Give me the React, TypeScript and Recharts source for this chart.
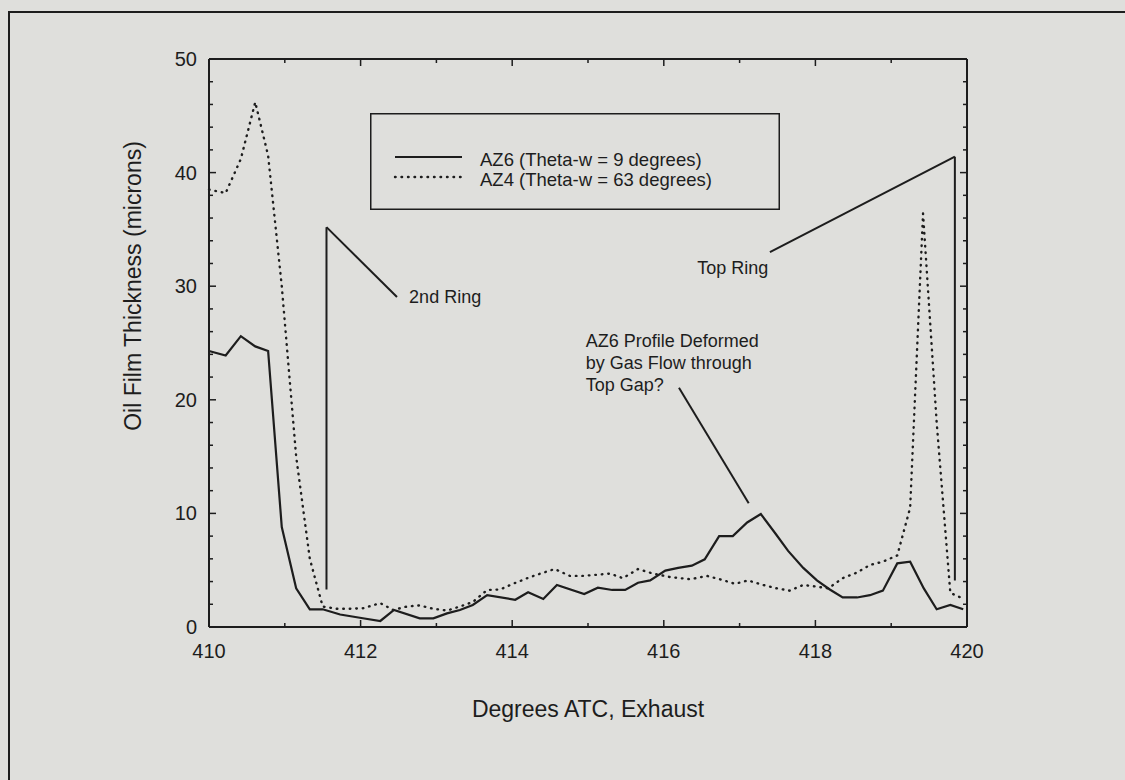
import React from "react";
import {
  LineChart,
  Line,
  XAxis,
  YAxis,
  ReferenceLine,
  ReferenceDot,
  Legend,
} from "recharts";

// crank angle (deg ATC) and oil film thickness (microns)
const az6Deg = [
  410.0, 410.22, 410.42, 410.61, 410.78, 410.96, 411.15, 411.33, 411.5, 411.73,
  412.03, 412.26, 412.44, 412.78, 412.96, 413.14, 413.31, 413.48, 413.67, 414.04,
  414.21, 414.41, 414.59, 414.95, 415.13, 415.32, 415.49, 415.66, 415.82, 416.02,
  416.19, 416.37, 416.54, 416.73, 416.91, 417.1, 417.28, 417.47, 417.64, 417.84,
  418.02, 418.19, 418.36, 418.55, 418.72, 418.89, 419.08, 419.25, 419.43, 419.6,
  419.78, 419.95,
];
const az6Film = [
  24.3, 23.9, 25.6, 24.7, 24.3, 8.8, 3.4, 1.56, 1.56, 1.1,
  0.77, 0.53, 1.5, 0.76, 0.76, 1.2, 1.5, 1.94, 2.8, 2.4,
  3.05, 2.46, 3.7, 2.9, 3.46, 3.26, 3.26, 3.9, 4.1, 4.96,
  5.2, 5.4, 5.96, 8.0, 8.0, 9.2, 9.95, 8.25, 6.7, 5.2,
  4.1, 3.3, 2.6, 2.6, 2.8, 3.2, 5.6, 5.75, 3.4, 1.56,
  1.94, 1.56,
];

const az4Deg = [
  410.0, 410.22, 410.42, 410.61, 410.78, 410.96, 411.15, 411.33, 411.5, 411.69,
  411.86, 412.03, 412.26, 412.43, 412.61, 412.78, 412.96, 413.14, 413.31, 413.48,
  413.67, 413.84, 414.01, 414.2, 414.37, 414.56, 414.76, 414.93, 415.12, 415.29,
  415.46, 415.66, 415.86, 416.08, 416.35, 416.57, 416.74, 416.94, 417.11, 417.31,
  417.49, 417.66, 417.84, 418.02, 418.17, 418.36, 418.55, 418.72, 418.89, 419.08,
  419.25, 419.42, 419.6, 419.78, 419.95,
];
const az4Film = [
  38.5, 38.2, 41.2, 46.2, 41.5, 30.0, 15.0, 6.0, 1.8, 1.6,
  1.6, 1.65, 2.1, 1.5, 1.8, 1.9, 1.6, 1.45, 1.8, 2.2,
  3.26, 3.3, 3.8, 4.3, 4.7, 5.1, 4.5, 4.5, 4.6, 4.7,
  4.3, 5.1, 4.7, 4.4, 4.2, 4.5, 4.2, 3.8, 4.1, 3.7,
  3.4, 3.2, 3.7, 3.55, 3.4, 4.3, 4.8, 5.46, 5.75, 6.3,
  10.5, 36.4, 18.0, 3.0, 2.5,
];

const seriesNames = ["AZ6 (Theta-w = 9 degrees)", "AZ4 (Theta-w = 63 degrees)"];

const xTicks = [410, 411, 412, 413, 414, 415, 416, 417, 418, 419, 420];
const yTicks = [
  0, 2, 4, 6, 8, 10, 12, 14, 16, 18, 20, 22, 24, 26, 28, 30, 32, 34, 36, 38, 40,
  42, 44, 46, 48, 50,
];

const az6Data = az6Deg.map((x, i) => ({ x, y: az6Film[i] }));
const az4Data = az4Deg.map((x, i) => ({ x, y: az4Film[i] }));

// pointer lines drawn on the plot (data coords)
const pointers = [
  [{ x: 411.55, y: 3.3 }, { x: 411.55, y: 35.2 }],
  [{ x: 411.55, y: 35.2 }, { x: 412.48, y: 29.05 }],
  [{ x: 419.84, y: 4.1 }, { x: 419.84, y: 41.4 }],
  [{ x: 419.84, y: 41.4 }, { x: 417.4, y: 33.0 }],
  [{ x: 416.2, y: 21.07 }, { x: 417.12, y: 10.89 }],
];

const notes = [
  { x: 412.64, y: 29.05, lines: ["2nd Ring"] },
  { x: 416.44, y: 31.6, lines: ["Top Ring"] },
  { x: 414.97, y: 25.2, lines: ["AZ6 Profile Deformed", "by Gas Flow through", "Top Gap?"] },
];

const FONT = '"Liberation Sans", Arial, Helvetica, sans-serif';
const INK = "#1d1d1d";
const BG = "#dfdfdc";
const DOTS = "0.6 5.9";

function BottomTick({ x, y, payload }: any) {
  const major = payload.value % 2 === 0;
  return (
    <g>
      <line x1={x} x2={x} y1={y} y2={y - (major ? 7 : 4)} stroke={INK} strokeWidth={1.5} />
      {major && (
        <text x={x} y={y + 31} textAnchor="middle" fontSize={20} fill={INK} fontFamily={FONT}>
          {payload.value}
        </text>
      )}
    </g>
  );
}

function TopTick({ x, y, payload }: any) {
  const major = payload.value % 2 === 0;
  return <line x1={x} x2={x} y1={y} y2={y + (major ? 7 : 4)} stroke={INK} strokeWidth={1.5} />;
}

function LeftTick({ x, y, payload }: any) {
  const major = payload.value % 10 === 0;
  return (
    <g>
      <line x1={x} x2={x + (major ? 7 : 4)} y1={y} y2={y} stroke={INK} strokeWidth={1.5} />
      {major && (
        <text x={x - 12} y={y + 7} textAnchor="end" fontSize={20} fill={INK} fontFamily={FONT}>
          {payload.value}
        </text>
      )}
    </g>
  );
}

function RightTick({ x, y, payload }: any) {
  const major = payload.value % 10 === 0;
  return <line x1={x} x2={x - (major ? 7 : 4)} y1={y} y2={y} stroke={INK} strokeWidth={1.5} />;
}

function NoteText({ viewBox, lines }: any) {
  const cx = viewBox.x + (viewBox.width || 0) / 2;
  const cy = viewBox.y + (viewBox.height || 0) / 2;
  return (
    <text x={cx} y={cy + 6} fontSize={18} fill={INK} fontFamily={FONT}>
      {lines.map((l: string, i: number) => (
        <tspan key={i} x={cx} dy={i === 0 ? 0 : 22}>
          {l}
        </tspan>
      ))}
    </text>
  );
}

function LegendBox() {
  return (
    <svg width={410} height={97} style={{ display: "block" }}>
      <rect x={0.75} y={0.75} width={408.5} height={95.5} fill="none" stroke={INK} strokeWidth={1.5} />
      <line x1={25} x2={92} y1={44} y2={44} stroke={INK} strokeWidth={2.2} />
      <line x1={25} x2={92} y1={64} y2={64} stroke={INK} strokeWidth={2.4} strokeDasharray={DOTS} strokeLinecap="round" />
      <text x={110} y={53} fontSize={18.5} fill={INK} fontFamily={FONT}>{seriesNames[0]}</text>
      <text x={110} y={72.5} fontSize={18.5} fill={INK} fontFamily={FONT}>{seriesNames[1]}</text>
    </svg>
  );
}

export default function App() {
  return (
    <div style={{ position: "absolute", left: 0, top: 0, width: 1125, height: 780, overflow: "hidden", background: BG }}>
      <div
        style={{
          position: "absolute",
          left: 8,
          top: 11,
          width: 1200,
          height: 900,
          border: `2px solid ${INK}`,
        }}
      />
      <LineChart width={1125} height={780} margin={{ top: 58, right: 157, bottom: 123, left: 0 }}>
        <XAxis
          dataKey="x"
          type="number"
          domain={[410, 420]}
          ticks={xTicks}
          interval={0}
          height={30}
          tickSize={0}
          tickMargin={0}
          tick={<BottomTick />}
          axisLine={{ stroke: INK, strokeWidth: 2 }}
          label={{
            content: ({ viewBox }: any) => (
              <text x={viewBox.x + viewBox.width / 2} y={viewBox.y + 90} textAnchor="middle" fontSize={23} fill={INK} fontFamily={FONT}>
                Degrees ATC, Exhaust
              </text>
            ),
          }}
        />
        <XAxis
          xAxisId="top"
          dataKey="x"
          orientation="top"
          type="number"
          domain={[410, 420]}
          ticks={xTicks}
          interval={0}
          height={1}
          tickSize={0}
          tickMargin={0}
          tick={<TopTick />}
          axisLine={{ stroke: INK, strokeWidth: 2 }}
        />
        <YAxis
          type="number"
          domain={[0, 50]}
          ticks={yTicks}
          interval={0}
          width={209}
          tickSize={0}
          tickMargin={0}
          tick={<LeftTick />}
          axisLine={{ stroke: INK, strokeWidth: 2 }}
          label={{
            content: ({ viewBox }: any) => (
              <text
                transform={`translate(141, ${viewBox.y + 227}) rotate(-90)`}
                textAnchor="middle"
                fontSize={23}
                fill={INK}
                fontFamily={FONT}
              >
                Oil Film Thickness (microns)
              </text>
            ),
          }}
        />
        <YAxis
          yAxisId="right"
          orientation="right"
          type="number"
          domain={[0, 50]}
          ticks={yTicks}
          interval={0}
          width={1}
          tickSize={0}
          tickMargin={0}
          tick={<RightTick />}
          axisLine={{ stroke: INK, strokeWidth: 2 }}
        />
        <Legend
          layout="vertical"
          align="center"
          verticalAlign="middle"
          wrapperStyle={{ left: 370, top: 113, width: 410, height: 97 }}
          content={() => <LegendBox />}
        />
        {pointers.map((seg, i) => (
          <ReferenceLine key={i} segment={seg} stroke={INK} strokeWidth={2} />
        ))}
        {notes.map((n, i) => (
          <ReferenceDot
            key={i}
            x={n.x}
            y={n.y}
            r={0}
            fill="none"
            stroke="none"
            label={(p: any) => <NoteText viewBox={p.viewBox} lines={n.lines} />}
          />
        ))}
        <Line
          data={az6Data}
          dataKey="y"
          name={seriesNames[0]}
          type="linear"
          stroke={INK}
          strokeWidth={2.2}
          dot={false}
          isAnimationActive={false}
        />
        {/* AZ4 is plotted against the mirrored top/right axes (same domains) */}
        <Line
          data={az4Data}
          dataKey="y"
          xAxisId="top"
          yAxisId="right"
          name={seriesNames[1]}
          type="linear"
          stroke={INK}
          strokeWidth={2.4}
          strokeDasharray={DOTS}
          strokeLinecap="round"
          dot={false}
          isAnimationActive={false}
        />
      </LineChart>
    </div>
  );
}
